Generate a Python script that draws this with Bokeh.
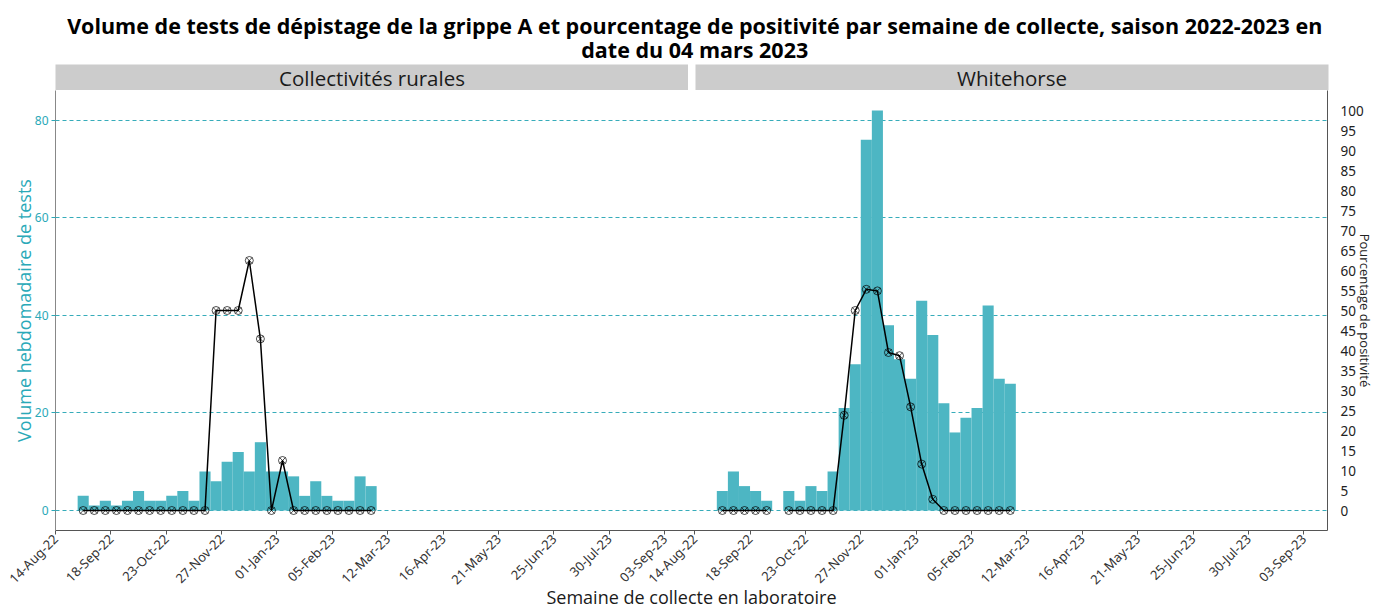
import numpy as np
import pandas as pd
import math
from bokeh.plotting import figure
from bokeh.models import (Range1d, LinearAxis, SingleIntervalTicker, FixedTicker,
                          Label, ColumnDataSource)
from bokeh.layouts import column, row
from bokeh.embed import file_html
from bokeh.resources import INLINE

# ---------------- data ----------------
week_starts = ["2022-08-28", "2022-09-04", "2022-09-11", "2022-09-18", "2022-09-25",
               "2022-10-02", "2022-10-09", "2022-10-16", "2022-10-23", "2022-10-30",
               "2022-11-06", "2022-11-13", "2022-11-20", "2022-11-27", "2022-12-04",
               "2022-12-11", "2022-12-18", "2022-12-25", "2023-01-01", "2023-01-08",
               "2023-01-15", "2023-01-22", "2023-01-29", "2023-02-05", "2023-02-12",
               "2023-02-19", "2023-02-26"]

panels = ["Collectivités rurales", "Whitehorse"]

tests_rural = [3, 1, 2, 1, 2, 4, 2, 2, 3, 4, 2, 8, 6, 10, 12, 8, 14, 8, 8, 7, 3, 6, 3, 2, 2, 7, 5]
pct_rural = [0, 0, 0, 0, 0, 0, 0, 0, 0, 0, 0, 0, 50.0, 50.0, 50.0, 62.5, 42.9, 0, 12.5,
             0, 0, 0, 0, 0, 0, 0, 0]

nan = float("nan")
tests_wh = [4, 8, 5, 4, 2, nan, 4, 2, 5, 4, 8, 21, 30, 76, 82, 38, 31, 27, 43, 36, 22, 16,
            19, 21, 42, 27, 26]
pct_wh = [0, 0, 0, 0, 0, nan, 0, 0, 0, 0, 0, 23.8, 50.0, 55.3, 54.9, 39.5, 38.7, 25.9,
          11.6, 2.8, 0, 0, 0, 0, 0, 0, 0]

tick_dates = ["2022-08-14", "2022-09-18", "2022-10-23", "2022-11-27", "2023-01-01",
              "2023-02-05", "2023-03-12", "2023-04-16", "2023-05-21", "2023-06-25",
              "2023-07-30", "2023-09-03"]
tick_labels = ["14-Aug-22", "18-Sep-22", "23-Oct-22", "27-Nov-22", "01-Jan-23",
               "05-Feb-23", "12-Mar-23", "16-Apr-23", "21-May-23", "25-Jun-23",
               "30-Jul-23", "03-Sep-23"]
pct_ticks = [0, 5, 10, 15, 20, 25, 30, 35, 40, 45, 50, 55, 60, 65, 70, 75, 80, 85, 90,
             95, 100]

title_lines = ["Volume de tests de dépistage de la grippe A et pourcentage de positivité par semaine de collecte, saison 2022-2023 en",
               "date du 04 mars 2023"]
x_title = "Semaine de collecte en laboratoire"
y_title = "Volume hebdomadaire de tests"
y2_title = "Pourcentage de positivité"

# ---------------- styling / layout ----------------
TEAL_BAR = "#4DB6C3"
TEAL_TXT = "#2AA9B8"
GRID_COL = "#36ACBA"
AXIS_COL = "#555555"
FONT = "Open Sans"
TICK_FONT = "Noto Sans"

W = 1376
LB = 55            # left border
RB = 48            # right border
PW = 633           # width of one panel
GAPW = 7           # gap between panels (px)
TITLE_H = 64
STRIP_H = 26
MAIN_H = 612 - TITLE_H - STRIP_H
BOTTOM_H = 82

PANEL_DAYS = 400
OFF = 404          # day offset of the second panel
x0 = pd.Timestamp("2022-08-14")
y_lo, y_hi = -4.1, 86.1
scale = 82 / 100.0   # secondary axis: 100 % == 82 tests

week_day = np.array([(pd.Timestamp(d) - x0).days for d in week_starts]) + 3.5
tick_day = [(pd.Timestamp(d) - x0).days for d in tick_dates]

# ---------------- main figure (both panels) ----------------
p = figure(width=W, height=MAIN_H, x_range=Range1d(0, OFF + PANEL_DAYS),
           y_range=Range1d(y_lo, y_hi), output_backend="svg", toolbar_location=None,
           min_border_left=LB, min_border_right=RB, min_border_top=0,
           min_border_bottom=BOTTOM_H)
p.extra_y_ranges = {"pct": Range1d(y_lo / scale, y_hi / scale)}
p.outline_line_color = None
p.xgrid.visible = False

for k, (tests, pct) in enumerate([(tests_rural, pct_rural), (tests_wh, pct_wh)]):
    src = ColumnDataSource(dict(x=week_day + k * OFF, tests=tests, pct=pct))
    p.vbar(x="x", top="tests", bottom=0, width=7, source=src,
           fill_color=TEAL_BAR, line_color=None)
    p.line(x="x", y="pct", source=src, y_range_name="pct", line_color="black",
           line_width=1.5)
    p.scatter(x="x", y="pct", source=src, y_range_name="pct", marker="circle_x", size=8,
              fill_color=None, line_color="black", line_width=0.7)

# x axis
xticks = [t + k * OFF for k in range(2) for t in tick_day]
xlabels = {t + k * OFF: lab for k in range(2) for t, lab in zip(tick_day, tick_labels)}
xa = p.xaxis[0]
xa.ticker = FixedTicker(ticks=xticks)
xa.major_label_overrides = xlabels
xa.major_label_orientation = math.pi / 4
xa.major_label_text_font = TICK_FONT
xa.major_label_text_font_size = "13px"
xa.major_label_text_color = "#333333"
xa.major_label_standoff = 2
xa.axis_line_color = AXIS_COL
xa.major_tick_line_color = AXIS_COL
xa.major_tick_out = 4
xa.major_tick_in = 0
xa.minor_tick_line_color = None
xa.axis_label = x_title
xa.axis_label_text_font = FONT
xa.axis_label_text_font_size = "18px"
xa.axis_label_text_font_style = "normal"
xa.axis_label_text_color = "#1A1A1A"
xa.axis_label_standoff = -12

# left y axis
ytick = SingleIntervalTicker(interval=20)
ya = p.yaxis[0]
ya.ticker = ytick
p.ygrid.ticker = ytick
p.ygrid.grid_line_color = GRID_COL
p.ygrid.grid_line_dash = "4 3"
p.ygrid.grid_line_width = 1
ya.major_label_text_color = TEAL_TXT
ya.major_label_text_font = TICK_FONT
ya.major_label_text_font_size = "12px"
ya.major_label_standoff = 3
ya.axis_line_color = "#888888"
ya.major_tick_line_color = TEAL_TXT
ya.major_tick_out = 4
ya.major_tick_in = 0
ya.minor_tick_line_color = None
ya.axis_label = y_title
ya.axis_label_text_color = TEAL_TXT
ya.axis_label_text_font = FONT
ya.axis_label_text_font_size = "18px"
ya.axis_label_text_font_style = "normal"
ya.axis_label_standoff = -4

# right y axis (percentage)
ra = LinearAxis(y_range_name="pct", ticker=FixedTicker(ticks=pct_ticks))
ra.major_label_text_color = "#222222"
ra.major_label_text_font = TICK_FONT
ra.major_label_text_font_size = "13.5px"
ra.major_label_standoff = 7
ra.axis_line_color = AXIS_COL
ra.major_tick_line_color = None
ra.minor_tick_line_color = None
ra.axis_label = y2_title
ra.axis_label_text_color = "#222222"
ra.axis_label_text_font = FONT
ra.axis_label_text_font_size = "13px"
ra.axis_label_text_font_style = "normal"
ra.axis_label_standoff = -11
p.add_layout(ra, "right")


# ---------------- strips ----------------
def strip(text, bl, br):
    s = figure(width=bl + PW + br, height=STRIP_H, x_range=Range1d(0, 1),
               y_range=Range1d(0, 1), output_backend="svg", toolbar_location=None,
               x_axis_location=None, y_axis_location=None,
               min_border_left=bl, min_border_right=br, min_border_top=0,
               min_border_bottom=0)
    s.background_fill_color = "#CCCCCC"
    s.outline_line_color = None
    s.grid.visible = False
    s.add_layout(Label(x=0.5, y=0.5, text=text, text_align="center", text_baseline="middle",
                       text_font=FONT, text_font_size="20.5px", text_color="#1A1A1A"))
    return s


strips = row(strip(panels[0], LB, 0), strip(panels[1], GAPW, RB))

# ---------------- title ----------------
tfig = figure(width=W, height=TITLE_H, x_range=Range1d(0, 1), y_range=Range1d(0, 1),
              output_backend="svg", toolbar_location=None,
              x_axis_location=None, y_axis_location=None, min_border=0)
tfig.outline_line_color = None
tfig.grid.visible = False
for line, yy in zip(title_lines, [1 - 25 / TITLE_H, 1 - 49 / TITLE_H]):
    tfig.add_layout(Label(x=(LB + (W - LB - RB) / 2) / W, y=yy, text=line,
                          text_align="center", text_baseline="middle", text_font=FONT,
                          text_font_size="21.5px", text_font_style="bold",
                          text_color="black"))

layout = row(column(tfig, strips, p))

open("out.html", "w").write(file_html(layout, INLINE))
